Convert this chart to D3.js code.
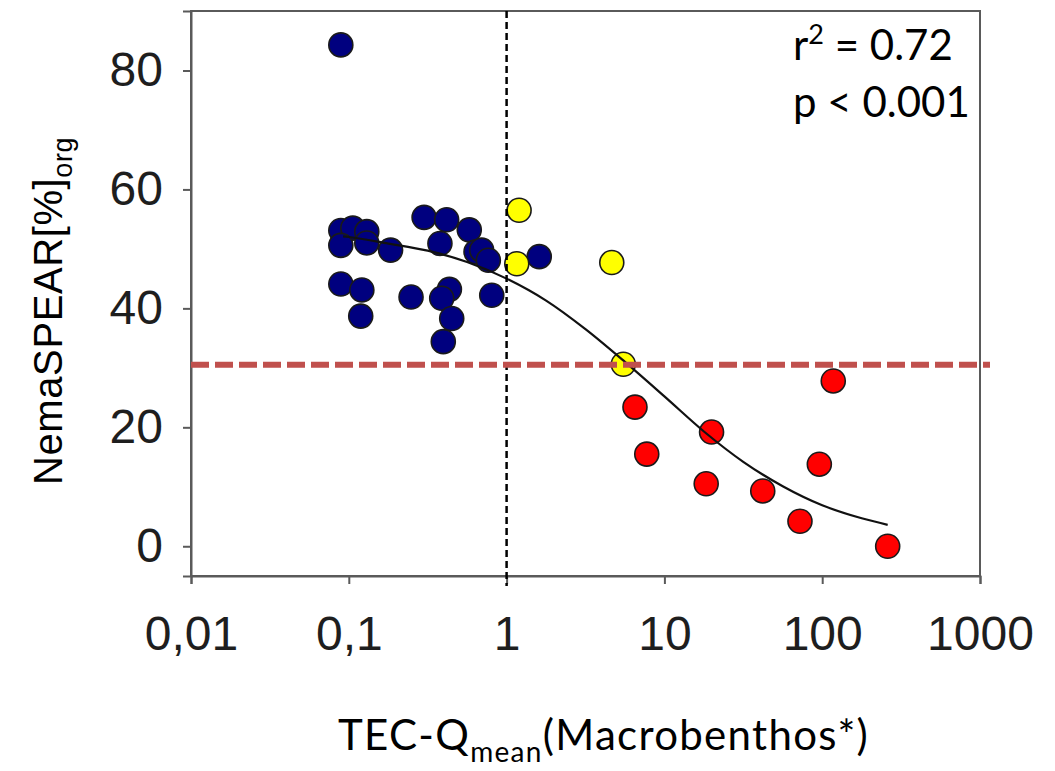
<!DOCTYPE html>
<html>
<head>
<meta charset="utf-8">
<script src="https://cdn.jsdelivr.net/npm/d3@7"></script>
<style>
body { margin:0; background:#fff; }
</style>
</head>
<body>
<div id="container"></div>
<script>
// data
var blueX = [0.089,0.089,0.106,0.130,0.089,0.130,0.184,0.300,0.417,0.580,0.378,0.640,0.695,0.766,1.61,0.089,0.121,0.119,0.248,0.434,0.388,0.449,0.397,0.805];
var blueY = [84.3,53.1,53.5,52.9,50.6,51.0,49.8,55.3,54.9,53.2,50.9,49.5,49.8,48.1,48.7,44.1,43.1,38.7,41.9,43.2,41.7,38.3,34.4,42.2];
var yellowX = [1.20,1.16,4.64,5.49];
var yellowY = [56.5,47.5,47.7,30.6];
var redX = [6.51,7.73,19.9,18.4,42.0,72.3,95.9,117.5,260];
var redY = [23.4,15.5,19.2,10.5,9.3,4.2,13.8,27.8,0];
var curveX = [0.092,0.1,0.178,0.316,0.562,1,1.78,3.16,5.62,10,17.8,31.6,56.2,100,178,260];
var curveY = [52.1,52.0,50.9,49.7,47.8,45.0,41.3,36.5,31.0,25.2,19.3,14.2,10.1,6.9,4.7,3.6];
var xTicks = [0.01,0.1,1,10,100,1000];
var xTickLabels = ["0,01","0,1","1","10","100","1000"];
var yTicks = [0,20,40,60,80];
var thresholdX = 1;
var thresholdY = 30.5;

var svg = d3.select("#container").append("svg")
			.attr("width",1055)
			.attr("height",771);

var x = d3.scaleLog().domain([0.01,1000]).range([191,980]);
var y = d3.scaleLinear().domain([-5,90]).range([576,11]);

var axisColor = "#5a5a5a";

// frame
svg.append("rect").attr("x",191).attr("y",11)
	.attr("width",980-191).attr("height",576-11)
	.attr("fill","none").attr("stroke",axisColor).attr("stroke-width",2);

var yAxis = svg.append("g").attr("transform","translate(191,0)")
	.call(d3.axisLeft(y).tickValues(yTicks).tickSize(8).tickPadding(20).tickFormat(d3.format("d")));
var xAxis = svg.append("g").attr("transform","translate(0,576)")
	.call(d3.axisBottom(x).tickValues(xTicks).tickSize(8).tickPadding(32)
		.tickFormat(function(d,i){ return xTickLabels[i]; }));

[xAxis,yAxis].forEach(function(a) {
	a.select(".domain").attr("stroke",axisColor).attr("stroke-width",2);
	a.selectAll(".tick line").attr("stroke",axisColor).attr("stroke-width",2);
	a.selectAll(".tick text").attr("fill","#1e1e1e")
		.style("font-family","'Liberation Sans', Arial, sans-serif").style("font-size","48px");
});
xAxis.selectAll(".tick text").attr("dy","0.71em");

function drawDots(xs,ys,color) {
	svg.append("g").selectAll("circle").data(xs).enter().append("circle")
		.attr("cx",function(d){ return x(d); })
		.attr("cy",function(d,i){ return y(ys[i]); })
		.attr("r",12)
		.attr("fill",color)
		.attr("stroke","#1a1a1a")
		.attr("stroke-width",1.6);
}
drawDots(blueX,blueY,"#00007f");
drawDots(yellowX,yellowY,"#ffff00");
drawDots(redX,redY,"#ff0000");

// fitted curve
var line = d3.line()
	.x(function(d){ return x(d[0]); })
	.y(function(d){ return y(d[1]); })
	.curve(d3.curveMonotoneX);
svg.append("path").datum(curveX.map(function(d,i){ return [d,curveY[i]]; }))
	.attr("d",line).attr("fill","none").attr("stroke","#111").attr("stroke-width",2.2);

// threshold lines
svg.append("line").attr("x1",x(thresholdX)).attr("x2",x(thresholdX))
	.attr("y1",11).attr("y2",586)
	.attr("stroke","#000").attr("stroke-width",2.5).attr("stroke-dasharray","7,4");
svg.append("line").attr("x1",191).attr("x2",990)
	.attr("y1",y(thresholdY)).attr("y2",y(thresholdY))
	.attr("stroke","#c0504d").attr("stroke-width",6).attr("stroke-dasharray","18,6");

// labels
var calibri = "Lato, 'Open Sans', sans-serif";
var r2 = svg.append("text").attr("x",793).attr("y",60)
	.style("font-family",calibri).style("font-size","42px").attr("fill","#000");
r2.append("tspan").text("r");
r2.append("tspan").attr("dy",-16).style("font-size","27px").text("2");
r2.append("tspan").attr("dy",16).text(" = 0.72");
svg.append("text").attr("x",793).attr("y",117)
	.style("font-family",calibri).style("font-size","42px").attr("fill","#000")
	.text("p < 0.001");

var xl = svg.append("text").attr("x",338).attr("y",750)
	.style("font-family",calibri).style("font-size","42px").style("letter-spacing","1.3px").attr("fill","#000");
xl.append("tspan").text("TEC-Q");
xl.append("tspan").attr("dy",12).style("font-size","28px").text("mean");
xl.append("tspan").attr("dy",-12).text("(Macrobenthos*)");

var yl = svg.append("text").attr("transform","translate(62,485) rotate(-90)")
	.style("font-family","'Liberation Sans', Arial, sans-serif").style("font-size","40px").style("letter-spacing","0.6px").attr("fill","#000");
yl.append("tspan").text("NemaSPEAR[%]");
yl.append("tspan").attr("dy",10).style("font-size","27px").text("org");
</script>
</body>
</html>
